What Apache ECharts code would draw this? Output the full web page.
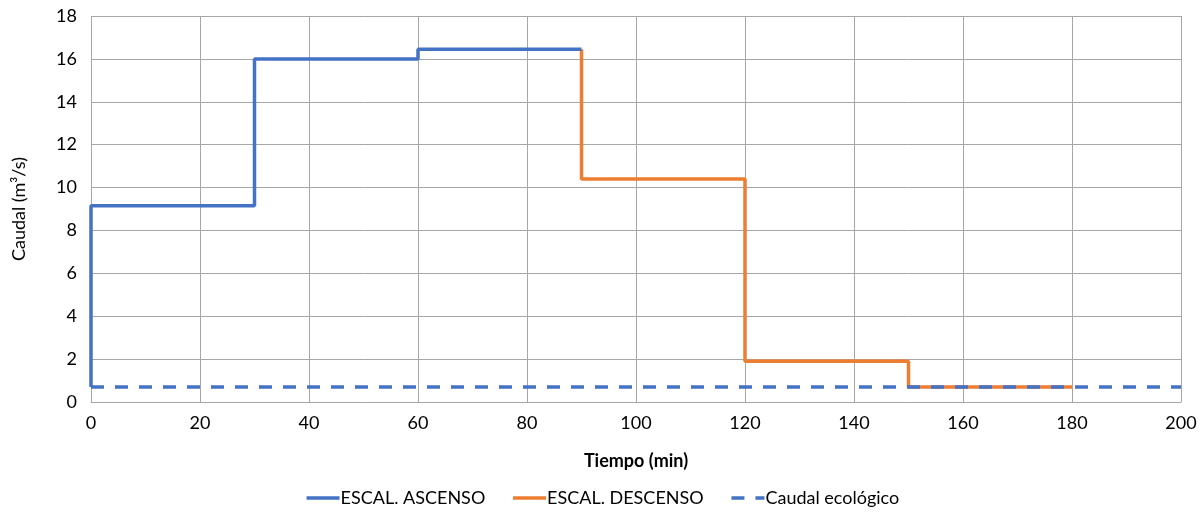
<!DOCTYPE html>
<html>
<head>
<meta charset="utf-8">
<script src="https://cdn.jsdelivr.net/npm/echarts@6/dist/echarts.min.js"></script>
<style>
html, body { margin: 0; padding: 0; background: #fff; }
#main { width: 1204px; height: 515px; }
</style>
</head>
<body>
<div id="main"></div>
<script>
// escalones (tiempo en min, caudal en m3/s)
var ascensoX = [0, 0, 30, 30, 60, 60, 90];
var ascensoY = [0.7, 9.15, 9.15, 16, 16, 16.45, 16.45];
var descensoX = [90, 90, 120, 120, 150, 150, 180];
var descensoY = [16.45, 10.4, 10.4, 1.9, 1.9, 0.7, 0.7];
var ecoX = [0, 200];
var ecoY = [0.7, 0.7];

function pares(xs, ys) {
	var out = [];
	for (var i = 0; i < xs.length; i++) out.push([xs[i], ys[i]]);
	return out;
}

var fuente = 'Lato, "Open Sans", sans-serif';
var gris = '#a6a6a6';

option = {
	animation : false,
	textStyle : { fontFamily : fuente },
	grid : {
		left : 91,
		right : 23,
		top : 16,
		bottom : 113
	},
	legend : {
		bottom : 3,
		left : 'center',
		itemWidth : 33,
		itemHeight : 4,
		itemGap : 26,
		itemStyle : { opacity : 0 },
		lineStyle : { width : 3.5 },
		textStyle : { fontSize : 18, color : '#000', fontFamily : fuente, padding : [0, 0, 0, -4] },
		data : [ 'ESCAL. ASCENSO', 'ESCAL. DESCENSO', 'Caudal ecológico' ]
	},
	xAxis : {
		type : 'value',
		min : 0,
		max : 200,
		interval : 20,
		name : 'Tiempo (min)',
		nameLocation : 'middle',
		nameGap : 50,
		nameTextStyle : { fontSize : 18, fontWeight : 'bold', color : '#000' },
		axisLine : { show : true, lineStyle : { color : gris } },
		axisTick : { show : false },
		axisLabel : { fontSize : 18, color : '#000', margin : 12 },
		splitLine : { show : true, lineStyle : { color : gris } }
	},
	yAxis : {
		type : 'value',
		min : 0,
		max : 18,
		interval : 2,
		name : 'Caudal (m³/s)',
		nameLocation : 'middle',
		nameGap : 63,
		nameTextStyle : { fontSize : 18, color : '#000' },
		axisLine : { show : false },
		axisTick : { show : false },
		axisLabel : { fontSize : 18, color : '#000', margin : 14 },
		splitLine : { show : true, lineStyle : { color : gris } }
	},
	series : [ {
		name : 'ESCAL. ASCENSO',
		type : 'line',
		symbol : 'none',
		color : '#4472C4',
		lineStyle : { width : 3.5, color : '#4472C4' },
		data : pares(ascensoX, ascensoY),
		z : 3
	}, {
		name : 'ESCAL. DESCENSO',
		type : 'line',
		symbol : 'none',
		color : '#ED7D31',
		lineStyle : { width : 3.5, color : '#ED7D31' },
		data : pares(descensoX, descensoY),
		z : 2
	}, {
		name : 'Caudal ecológico',
		type : 'line',
		symbol : 'none',
		color : '#4472C4',
		lineStyle : { width : 3.5, color : '#4472C4', type : [13, 11] },
		data : pares(ecoX, ecoY),
		z : 4
	} ]
};

var myChart = echarts.init(document.getElementById('main'));
myChart.setOption(option);
</script>
</body>
</html>
